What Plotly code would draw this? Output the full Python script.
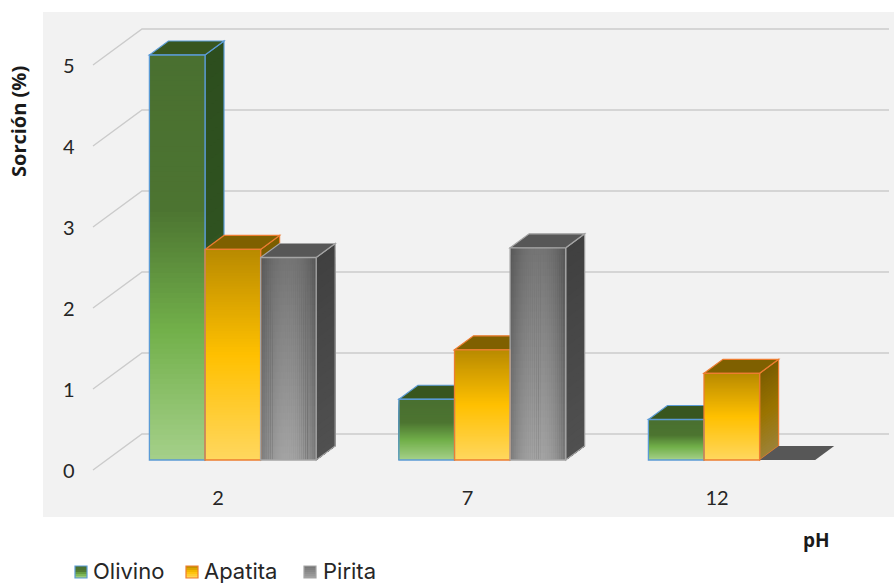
import plotly.graph_objects as go

# ---- data ----
categories = ["2", "7", "12"]
olivino = [5.0, 0.75, 0.5]
apatita = [2.6, 1.36, 1.07]
pirita = [2.5, 2.62, 0.0]
y_ticks = [0, 1, 2, 3, 4, 5]
series_names = ["Olivino", "Apatita", "Pirita"]
series_values = [olivino, apatita, pirita]

# ---- figure geometry (pixels) ----
W, H = 894, 583
L, R, T, B = 43, 894, 12, 517
PX_X, PX_Y = 249.5, 81.0      # px per category / per unit
X0_PX, Y0_PX = 218.0, 460.0   # position of category 0 / value 0
BAR_W = 55.6 / PX_X
DX, DY = 19 / PX_X, 14 / PX_Y  # bar depth
GROUP_SHIFT = 14.8 / PX_X      # bars sit right of the label (depth of the 3D floor)


def hex2rgb(h):
    return tuple(int(h[i:i + 2], 16) for i in (1, 3, 5))


def grad(stops, t):
    """t = 0 at top, 1 at bottom"""
    for (a, ca), (b, cb) in zip(stops, stops[1:]):
        if t <= b:
            f = (t - a) / (b - a) if b > a else 0
            ra, rb = hex2rgb(ca), hex2rgb(cb)
            return tuple(ra[i] + (rb[i] - ra[i]) * f for i in range(3))
    return hex2rgb(stops[-1][1])


def css(c, k=1.0):
    return "rgb(%d,%d,%d)" % tuple(round(min(255, v * k)) for v in c)


styles = [
    dict(front=[(0, "#4a7030"), (0.38, "#4c7431"), (0.68, "#72b04a"), (1, "#a5d08a")],
         side=[(0, "#2d4e1e"), (0.45, "#2f5220"), (1, "#4e7a38")],
         top="#38561f", edge="#5b9bd5", rows=80, cols=1),
    dict(front=[(0, "#b88a00"), (0.5, "#ffc000"), (1, "#ffd75f")],
         side=[(0, "#7a5c00"), (0.5, "#9a7400"), (1, "#9c8238")],
         top="#7f6000", edge="#ed7d31", rows=80, cols=1),
    dict(front=[(0, "#747474"), (1, "#a4a4a4")],
         side=[(0, "#404040"), (1, "#505050")],
         top="#575757", edge="#a5a5a5", rows=30, cols=27),
]
SIDE_ROWS = 30

fig = go.Figure()
shapes = []

# ---- back wall grid lines with their diagonal ----
gx0 = (93 - X0_PX) / PX_X
gx1 = (142 - X0_PX) / PX_X
gx2 = (889 - X0_PX) / PX_X
for v in y_ticks:
    shapes.append(dict(type="path", layer="below", xref="x", yref="y",
                       path=f"M{gx0},{v - 10 / PX_Y} L{gx1},{v + 26 / PX_Y} L{gx2},{v + 26 / PX_Y}",
                       line=dict(color="#cbcbcb", width=1.4)))

outlines = []
for s, (name, vals) in enumerate(zip(series_names, series_values)):
    st = styles[s]
    xs, heights, widths, colors = [], [], [], []
    for c, v in enumerate(vals):
        x0 = c - 1.5 * BAR_W + s * BAR_W + GROUP_SHIFT
        x1 = x0 + BAR_W
        # side faces, then top face, drawn under the front faces
        if v > 0:
            for r in range(SIDE_ROWS):
                t = r / SIDE_ROWS
                y1 = v * (1 - t)
                # every slice reaches the floor; the next slice paints over its lower part
                shapes.append(dict(type="path", layer="below", xref="x", yref="y",
                                   path=f"M{x1},0 L{x1 + DX},{DY} L{x1 + DX},{y1 + DY} L{x1},{y1} Z",
                                   fillcolor=css(grad(st["side"], t + 0.5 / SIDE_ROWS)),
                                   line=dict(width=0)))
            shapes.append(dict(type="path", layer="below", xref="x", yref="y",
                               path=f"M{x1},{0} L{x1 + DX},{DY} L{x1 + DX},{v + DY} L{x1},{v} Z",
                               fillcolor="rgba(0,0,0,0)",
                               line=dict(color=st["edge"], width=1.2)))
        shapes.append(dict(type="path", layer="below", xref="x", yref="y",
                           path=f"M{x0},{v} L{x0 + DX},{v + DY} L{x1 + DX},{v + DY} L{x1},{v} Z",
                           fillcolor=st["top"],
                           line=dict(color=st["edge"] if v > 0 else st["top"], width=1.2 if v > 0 else 0)))
        if v <= 0:
            continue
        # front face: bars painted top slice first, each reaching the floor
        ncols, nrows = st["cols"], st["rows"]
        for col in range(ncols):
            k = 1.0
            if s == 2:
                u = abs((col + 0.5) / ncols - 0.5) * 2
                k = 1 - 0.26 * u ** 2.2
            cl = x0 + col * BAR_W / ncols
            for r in range(nrows):
                t = (r + 0.5) / nrows
                xs.append((cl + x1) / 2)
                widths.append(x1 - cl)
                heights.append(v * (1 - r / nrows))
                colors.append(css(grad(st["front"], t), k))
        outlines.append(dict(type="rect", layer="above", xref="x", yref="y",
                             x0=x0, x1=x1, y0=0, y1=v,
                             line=dict(color=st["edge"], width=1.3)))
    fig.add_trace(go.Bar(x=xs, y=heights, width=widths, name=name,
                         marker=dict(color=colors, line=dict(width=0)),
                         showlegend=False, hoverinfo="skip"))


def px_x(p):
    return (p - L) / (R - L)


def px_y(p):
    return (B - p) / (B - T)


# ---- custom legend ----
legend_layout = [(75, 91), (186, 202), (304, 321)]
annotations = []
for s, (name, (sx, tx)) in enumerate(zip(series_names, legend_layout)):
    st = styles[s]
    n = 6
    for r in range(n):
        shapes.append(dict(type="rect", xref="paper", yref="paper", layer="above",
                           x0=px_x(sx), x1=px_x(sx + 12),
                           y0=px_y(578), y1=px_y(566 + 12 * r / n),
                           fillcolor=css(grad(st["front"], (r + 0.5) / n)), line=dict(width=0)))
    shapes.append(dict(type="rect", xref="paper", yref="paper", layer="above",
                       x0=px_x(sx), x1=px_x(sx + 12), y0=px_y(578), y1=px_y(566),
                       line=dict(color=st["edge"], width=1.2)))
    annotations.append(dict(text=name, xref="paper", yref="paper", x=px_x(tx), y=px_y(571),
                            xanchor="left", yanchor="middle", showarrow=False,
                            font=dict(family="Inter", size=22, color="#262626")))

# ---- axis titles ----
annotations.append(dict(text="<b>Sorción (%)</b>", xref="paper", yref="paper", x=px_x(19), y=px_y(122),
                        textangle=-90, xanchor="center", yanchor="middle", showarrow=False,
                        font=dict(family="Open Sans", size=20, color="#1a1a1a")))
annotations.append(dict(text="<b>pH</b>", xref="paper", yref="paper", x=px_x(816), y=px_y(540),
                        xanchor="center", yanchor="middle", showarrow=False,
                        font=dict(family="Open Sans", size=19, color="#1a1a1a")))

fig.update_layout(
    width=W, height=H, autosize=False,
    margin=dict(l=L, r=W - R, t=T, b=H - B, pad=0),
    paper_bgcolor="#ffffff", plot_bgcolor="#f2f2f2",
    barmode="overlay", showlegend=False,
    shapes=shapes + outlines, annotations=annotations,
    xaxis=dict(range=[(L - X0_PX) / PX_X, (R - X0_PX) / PX_X],
               tickvals=list(range(len(categories))), ticktext=categories,
               ticklabelposition="inside", ticklabelstandoff=5, ticks="",
               showgrid=False, zeroline=False, showline=False,
               tickfont=dict(family="Lato", size=20, color="#262626")),
    yaxis=dict(range=[(Y0_PX - B) / PX_Y, (Y0_PX - T) / PX_Y],
               tickvals=[v - 11 / PX_Y for v in y_ticks], ticktext=[str(v) for v in y_ticks],
               ticklabelposition="inside", ticklabelstandoff=17, ticks="",
               showgrid=False, zeroline=False, showline=False,
               tickfont=dict(family="Lato", size=20, color="#262626")),
)

fig.write_html("out.html", config=dict(displayModeBar=False),
               post_script="document.body.style.margin='0';document.documentElement.style.overflow='hidden';")
